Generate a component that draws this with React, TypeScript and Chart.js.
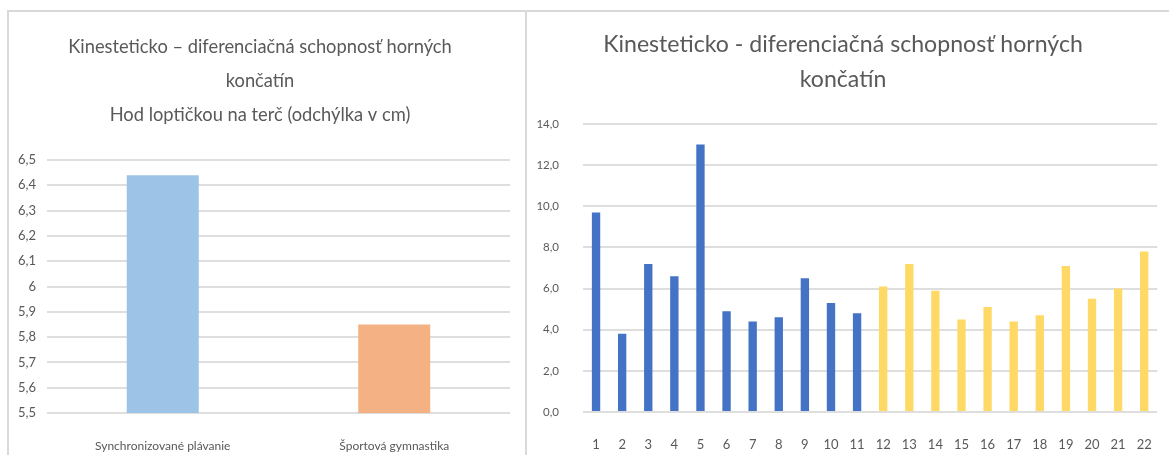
import React, { useEffect, useRef } from "react";
import { Chart, registerables } from "chart.js";

Chart.register(...registerables);

// ---- Left chart data ----
const leftTitle = [
  "Kinesteticko – diferenciačná schopnosť horných",
  "končatín",
  "Hod loptičkou na terč (odchýlka v cm)",
];
const leftCategories = ["Synchronizované plávanie", "Športová gymnastika"];
const leftValues = [6.44, 5.85];
const leftColors = ["#9DC3E6", "#F4B183"];
const leftMin = 5.5;
const leftMax = 6.5;
const leftStep = 0.1;

// ---- Right chart data ----
const rightTitle = ["Kinesteticko - diferenciačná schopnosť horných", "končatín"];
const rightCategories = [
  "1", "2", "3", "4", "5", "6", "7", "8", "9", "10", "11",
  "12", "13", "14", "15", "16", "17", "18", "19", "20", "21", "22",
];
const blueValues = [9.7, 3.8, 7.2, 6.6, 13.0, 4.9, 4.4, 4.6, 6.5, 5.3, 4.8];
const yellowValues = [6.1, 7.2, 5.9, 4.5, 5.1, 4.4, 4.7, 7.1, 5.5, 6.0, 7.8];
const rightMin = 0;
const rightMax = 14;
const rightStep = 2;

const FONT = "Lato";
const TEXT = "#595959";
const GRID = "#dedede";

function fitSize(text: string, target: number) {
  const ctx = document.createElement("canvas").getContext("2d")!;
  ctx.font = `100px ${FONT}`;
  return (100 * target) / ctx.measureText(text).width;
}

function LeftChart() {
  const ref = useRef<HTMLCanvasElement>(null);
  useEffect(() => {
    const size = fitSize(leftTitle[0], 384);
    const chart = new Chart(ref.current!, {
      type: "bar",
      data: {
        labels: leftCategories,
        datasets: [
          {
            data: leftValues,
            backgroundColor: leftColors,
            borderWidth: 0,
            barPercentage: 0.311,
            categoryPercentage: 1,
          },
        ],
      },
      options: {
        animation: false,
        responsive: false,
        maintainAspectRatio: false,
        layout: { padding: { left: 0, right: 14, top: 0, bottom: 0 } },
        plugins: {
          legend: { display: false },
          tooltip: { enabled: false },
          title: {
            display: true,
            text: leftTitle,
            color: TEXT,
            font: { family: FONT, size, weight: "normal", lineHeight: "34px" },
            padding: { top: 18, bottom: 28 },
          },
        },
        scales: {
          x: {
            grid: { display: false },
            border: { display: false },
            ticks: {
              color: TEXT,
              font: { family: FONT, size: 12 },
              padding: 18,
              maxRotation: 0,
            },
            afterFit: (s: any) => {
              s.height = 42;
            },
          },
          y: {
            min: leftMin,
            max: leftMax,
            ticks: {
              stepSize: leftStep,
              color: TEXT,
              font: { family: FONT, size: 13 },
              padding: 11,
              callback: (v: any) =>
                String(Math.round(Number(v) * 10) / 10).replace(".", ","),
            },
            grid: { color: GRID, lineWidth: 2, drawTicks: false },
            border: { display: false },
            afterFit: (s: any) => {
              s.width = 37;
            },
          },
        },
      },
    } as any);
    return () => chart.destroy();
  }, []);
  return (
    <canvas
      ref={ref}
      width={514}
      height={443}
      style={{ position: "absolute", left: 10, top: 12, width: 514, height: 443 }}
    />
  );
}

function RightChart() {
  const ref = useRef<HTMLCanvasElement>(null);
  useEffect(() => {
    const size = fitSize(rightTitle[0], 480);
    const pad = (n: number) => Array(n).fill(null);
    const chart = new Chart(ref.current!, {
      type: "bar",
      data: {
        labels: rightCategories,
        datasets: [
          {
            data: [...blueValues, ...pad(yellowValues.length)],
            backgroundColor: "#4472C4",
            borderWidth: 0,
            barPercentage: 0.32,
            categoryPercentage: 1,
            grouped: false,
          },
          {
            data: [...pad(blueValues.length), ...yellowValues],
            backgroundColor: "#FFD966",
            borderWidth: 0,
            barPercentage: 0.32,
            categoryPercentage: 1,
            grouped: false,
          },
        ],
      },
      options: {
        animation: false,
        responsive: false,
        maintainAspectRatio: false,
        layout: { padding: { left: 0, right: 11, top: 0, bottom: 0 } },
        plugins: {
          legend: { display: false },
          tooltip: { enabled: false },
          title: {
            display: true,
            text: rightTitle,
            color: TEXT,
            font: { family: FONT, size, weight: "normal", lineHeight: "35px" },
            padding: { top: 15.5, bottom: 26.5 },
          },
        },
        scales: {
          x: {
            grid: { display: false },
            border: { display: false },
            ticks: {
              color: TEXT,
              font: { family: FONT, size: 13 },
              padding: 17,
              maxRotation: 0,
              autoSkip: false,
            },
            afterFit: (s: any) => {
              s.height = 43;
            },
          },
          y: {
            min: rightMin,
            max: rightMax,
            ticks: {
              stepSize: rightStep,
              color: TEXT,
              font: { family: FONT, size: 11.5 },
              padding: 24,
              callback: (v: any) => Number(v).toFixed(1).replace(".", ","),
            },
            grid: { color: GRID, lineWidth: 2, drawTicks: false },
            border: { display: false },
            afterFit: (s: any) => {
              s.width = 55;
            },
          },
        },
      },
    } as any);
    return () => chart.destroy();
  }, []);
  return (
    <canvas
      ref={ref}
      width={641}
      height={443}
      style={{ position: "absolute", left: 528, top: 12, width: 641, height: 443 }}
    />
  );
}

export default function App() {
  const line = "#d9d9d9";
  return (
    <div
      style={{
        position: "fixed",
        left: 0,
        top: 0,
        width: 1169,
        height: 455,
        background: "#fff",
        overflow: "hidden",
      }}
    >
      <div style={{ position: "absolute", left: 7, top: 10, width: 1162, height: 2, background: line }} />
      <div style={{ position: "absolute", left: 7, top: 10, width: 2, height: 445, background: line }} />
      <div style={{ position: "absolute", left: 525, top: 10, width: 2, height: 445, background: line }} />
      <LeftChart />
      <RightChart />
    </div>
  );
}
